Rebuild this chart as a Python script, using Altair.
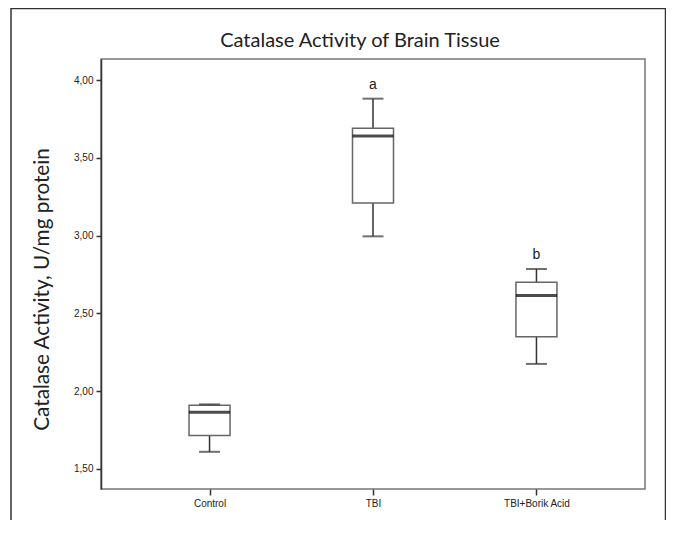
import altair as alt
import pandas as pd

groups = ["Control", "TBI", "TBI+Borik Acid"]
mins = [1.61, 2.995, 2.175]
q1s = [1.715, 3.21, 2.35]
medians = [1.865, 3.64, 2.615]
q3s = [1.91, 3.69, 2.70]
maxs = [1.915, 3.88, 2.785]
letters = ["", "a", "b"]
y_ticks = [1.5, 2.0, 2.5, 3.0, 3.5, 4.0]

df = pd.DataFrame({
    "group": groups, "min": mins, "q1": q1s, "median": medians,
    "q3": q3s, "max": maxs, "letter": letters,
})

W, H = 544, 430

x = alt.X(
    "group:N", sort=groups,
    scale=alt.Scale(type="point", padding=0.664),
    axis=alt.Axis(title=None, labelAngle=0, labelFont="Liberation Sans",
                  labelFontSize=10, labelColor="#222", tickColor="#333",
                  tickSize=6, tickWidth=1.5, labelPadding=3, domain=False, grid=False),
)
yscale = alt.Scale(domain=[1.371, 4.135], nice=False, zero=False)
yaxis = alt.Axis(
    values=y_ticks,
    labelExpr="replace(format(datum.value, '.2f'), '.', ',')",
    title="Catalase Activity, U/mg protein",
    titleFont="Lato", titleFontSize=20.7, titleFontWeight="normal",
    titleColor="#222", titleAngle=-90, titleX=-59, titleY=230,
    titleAlign="center", titleBaseline="middle",
    labelFont="Liberation Sans", labelFontSize=10, labelColor="#222",
    tickSize=5, tickWidth=1.5, labelPadding=3, tickColor="#333",
    domainColor="#333", domainWidth=1.5, grid=False,
)

base = alt.Chart(df)

whisker = base.mark_rule(color="#333", strokeWidth=1.5).encode(
    x=x, y=alt.Y("min:Q", scale=yscale, axis=yaxis), y2="max:Q",
)

box = base.mark_bar(size=41, fill="white", stroke="#666", strokeWidth=1.5).encode(
    x=x, y=alt.Y("q1:Q", scale=yscale, axis=yaxis), y2="q3:Q"
)

median = base.mark_tick(size=41, thickness=3, color="#000").encode(
    x=x, y=alt.Y("median:Q", scale=yscale, axis=yaxis)
)

cap_lo = base.mark_tick(size=21, thickness=2, color="#333").encode(
    x=x, y=alt.Y("min:Q", scale=yscale, axis=yaxis)
)
cap_hi = base.mark_tick(size=21, thickness=2, color="#333").encode(
    x=x, y=alt.Y("max:Q", scale=yscale, axis=yaxis)
)

letter = base.mark_text(dy=-10, baseline="alphabetic", fontSize=14,
                        font="Liberation Sans", color="#222").encode(
    x=x, y=alt.Y("max:Q", scale=yscale, axis=yaxis), text="letter:N"
)

frame = alt.Chart(pd.DataFrame({"k": [0]})).mark_rect(
    fillOpacity=0, stroke="#333", strokeWidth=1.5
).encode(
    x=alt.value(-90), x2=alt.value(564.5), y=alt.value(-50.5), y2=alt.value(520)
)

chart = alt.layer(whisker, box, median, cap_lo, cap_hi, letter, frame).properties(
    width=W, height=H,
    title=alt.TitleParams(
        text="Catalase Activity of Brain Tissue", anchor="middle", frame="group",
        dx=-13, font="Lato", fontSize=20, fontWeight="normal", color="#222",
        baseline="alphabetic", offset=-59,
    ),
    autosize=alt.AutoSizeParams(type="none"),
    padding={"left": 93, "top": 51, "right": 21, "bottom": 31},
).configure_view(stroke="#777", strokeWidth=1.5)

chart.save("out.html", embed_options={"renderer": "svg", "actions": False})
